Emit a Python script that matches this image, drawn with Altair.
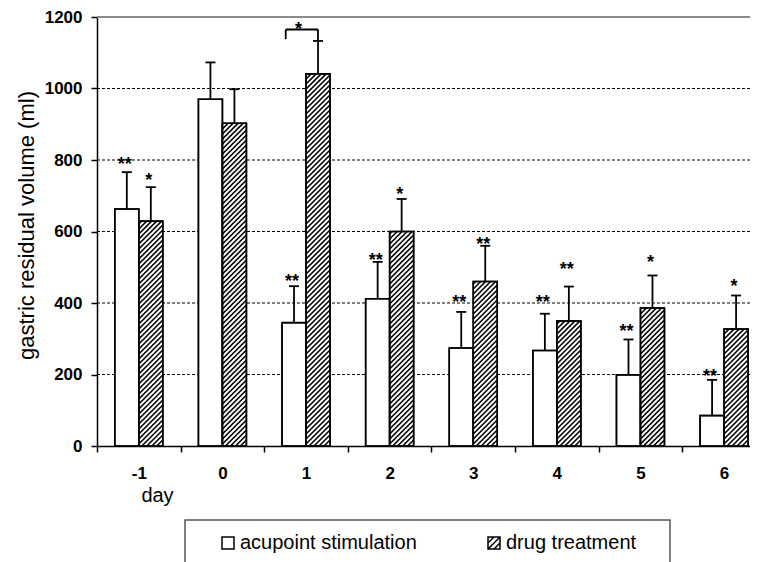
import altair as alt
import pandas as pd

# ---------------- data ----------------
days = [-1, 0, 1, 2, 3, 4, 5, 6]
series = ["acupoint stimulation", "drug treatment"]
acu_mean = [663, 970, 345, 412, 274, 267, 199, 85]
acu_sd = [103, 103, 102, 103, 101, 103, 99, 100]
drug_mean = [629, 903, 1041, 600, 460, 350, 386, 327]
drug_sd = [95, 95, 92, 91, 100, 96, 91, 94]
acu_sig = ["**", "", "**", "**", "**", "**", "**", "**"]
acu_sig_y = [800, 0, 473, 531, 414, 414, 333, 207]
drug_sig = ["*", "", "", "*", "**", "**", "*", "*"]
drug_sig_y = [755, 0, 0, 716, 575, 506, 526, 459]
bracket_x = [0.757, 1.143]
bracket_y = [1138, 1165]
bracket_sig = ["*"]
bracket_sig_x = [0.91]
bracket_sig_y = [1178]
grid_ticks = [200, 400, 600, 800, 1000]
y_ticks = [0, 200, 400, 600, 800, 1000, 1200]
top_line = [1200]
x_ticks = [-1.5, -0.5, 0.5, 1.5, 2.5, 3.5, 4.5, 5.5]

# ---------------- layout constants ----------------
PW, PH = 653, 429
X_MIN, X_MAX = -1.5, 6.31
Y_MAX = 1200
BAR_W = 0.287
FONT = "Liberation Sans"

xpx = PW / (X_MAX - X_MIN)
ypx = PH / Y_MAX

# bar table
rows = []
for i, d in enumerate(days):
    rows.append(dict(series=series[0], x0=d - BAR_W, x1=d, cx=d - BAR_W / 2,
                     v=acu_mean[i], up=acu_mean[i] + acu_sd[i], mid=acu_mean[i] / 2,
                     sig=acu_sig[i], sy=acu_sig_y[i]))
    rows.append(dict(series=series[1], x0=d, x1=d + BAR_W, cx=d + BAR_W / 2,
                     v=drug_mean[i], up=drug_mean[i] + drug_sd[i], mid=drug_mean[i] / 2,
                     sig=drug_sig[i], sy=drug_sig_y[i]))
bars = pd.DataFrame(rows)
stars = bars[bars["sig"] != ""]

# hatching of drug bars (diagonal lines derived from bar values)
pitch = 5.0
hatch = []
for d, v in zip(days, drug_mean):
    w = BAR_W * xpx
    h = v * ypx
    k = -w + 1.0
    while k < h:
        xs = max(0.0, -k)
        xe = min(w, h - k)
        if xe > xs:
            hatch.append(dict(hx=d + xs / xpx, hy=(xs + k) / ypx,
                              hx2=d + xe / xpx, hy2=(xe + k) / ypx))
        k += pitch
hatch = pd.DataFrame(hatch)

# significance bracket
drug_day1_up = drug_mean[2] + drug_sd[2]
bracket = pd.DataFrame([
    dict(bx=bracket_x[0], by=bracket_y[0], bx2=bracket_x[0], by2=bracket_y[1]),
    dict(bx=bracket_x[0], by=bracket_y[1], bx2=bracket_x[1], by2=bracket_y[1]),
    dict(bx=bracket_x[1], by=drug_day1_up, bx2=bracket_x[1], by2=bracket_y[1]),
])
bstar = pd.DataFrame(dict(t=bracket_sig, x=bracket_sig_x, y=bracket_sig_y))

# ---------------- scales / axes ----------------
xscale = alt.Scale(domain=[X_MIN, X_MAX], nice=False, zero=False)
yscale = alt.Scale(domain=[0, Y_MAX], nice=False, zero=True)

xaxis = alt.Axis(values=x_ticks, grid=False, labelExpr="'' + (datum.value + 0.5)",
                 labelOffset=xpx / 2, labelFlush=False, labelFontSize=17,
                 labelFontWeight="bold", labelColor="black", labelFont=FONT,
                 labelPadding=13, tickSize=6, tickWidth=1.5, tickColor="black",
                 domainColor="black", domainWidth=1.5,
                 title="day", titleFont=FONT, titleFontSize=20, titleFontWeight="normal",
                 titleColor="black", titleX=60, titleY=55, titleBaseline="alphabetic",
                 titleAlign="center")
yaxis = alt.Axis(values=y_ticks, grid=False, format="d", labelFontSize=17,
                 labelFontWeight="bold", labelColor="black", labelFont=FONT,
                 labelPadding=9, labelFlush=False,
                 tickSize=6, tickWidth=1.5, tickColor="black",
                 domainColor="black", domainWidth=1.5,
                 title="gastric residual volume (ml)", titleFont=FONT, titleFontSize=22,
                 titleFontWeight="normal", titleColor="black", titleX=-64, titleY=208,
                 titleBaseline="alphabetic", titleAlign="center", titleAngle=270)


def X(f):
    return alt.X(f, type="quantitative", scale=xscale, axis=xaxis)


def Y(f):
    return alt.Y(f, type="quantitative", scale=yscale, axis=yaxis)


sq_path = "M-1,-1H1V1H-1Z"
hatch_path = "M-1,-1H1V1H-1Z M-1,0L0,-1 M-1,1L1,-1 M0,1L1,0"

# point layer drawn beneath the (opaque) bars: it only feeds the legend
legend_pts = alt.Chart(bars).mark_point(filled=False, color="black",
                                        size=144, strokeWidth=1.5, opacity=1).encode(
    x=X("cx"), y=Y("mid"),
    shape=alt.Shape("series:N",
                    scale=alt.Scale(domain=series, range=[sq_path, hatch_path]),
                    legend=alt.Legend(title=None, orient="none", legendX=121, legendY=516,
                                      direction="horizontal", labelFont=FONT,
                                      labelFontSize=20, labelColor="black", labelLimit=400,
                                      labelOffset=2, columnPadding=67, padding=0,
                                      symbolSize=144, symbolStrokeWidth=1.5,
                                      symbolOpacity=1, symbolStrokeColor="black")),
)

grid = alt.Chart(pd.DataFrame(dict(g=grid_ticks))).mark_rule(
    color="black", strokeWidth=1, strokeDash=[3, 2]).encode(
    y=Y("g"), x=alt.value(0), x2=alt.value(PW))

top = alt.Chart(pd.DataFrame(dict(g=top_line))).mark_rule(
    color="#8a8a8a", strokeWidth=2).encode(
    y=Y("g"), x=alt.value(0), x2=alt.value(PW))

bar_fill = alt.Chart(bars).mark_rect(fill="white", stroke="black", strokeWidth=1.5).encode(
    x=X("x0"), x2="x1", y=Y("v"), y2=alt.Y2(datum=0))

hatch_lines = alt.Chart(hatch).mark_rule(color="black", strokeWidth=1.6).encode(
    x=X("hx"), y=Y("hy"), x2="hx2", y2="hy2")

bar_outline = alt.Chart(bars).mark_rect(fillOpacity=0, stroke="black", strokeWidth=1.6).encode(
    x=X("x0"), x2="x1", y=Y("v"), y2=alt.Y2(datum=0))

err = alt.Chart(bars).mark_rule(color="black", strokeWidth=1.8).encode(
    x=X("cx"), y=Y("v"), y2="up")

caps = alt.Chart(bars).mark_tick(orient="horizontal", size=10, thickness=1.8,
                                 color="black", opacity=1).encode(
    x=X("cx"), y=Y("up"))

star_text = alt.Chart(stars).mark_text(font=FONT, fontSize=18, fontWeight="bold",
                                       baseline="alphabetic", align="center",
                                       dy=10, dx=-2, color="black").encode(
    x=X("cx"), y=Y("sy"), text="sig:N")

bracket_lines = alt.Chart(bracket).mark_rule(color="black", strokeWidth=1.8).encode(
    x=X("bx"), y=Y("by"), x2="bx2", y2="by2")

bracket_star = alt.Chart(bstar).mark_text(font=FONT, fontSize=18, fontWeight="bold",
                                          baseline="alphabetic", align="center",
                                          dy=10, color="black").encode(
    x=X("x"), y=Y("y"), text="t:N")

legend_box = alt.Chart(pd.DataFrame(dict(a=[0]))).mark_rect(
    fillOpacity=0, stroke="#555555", strokeWidth=1.5).encode(
    x=alt.value(88), x2=alt.value(573), y=alt.value(503), y2=alt.value(600))

chart = alt.layer(
    legend_pts, grid, top, bar_fill, hatch_lines, bar_outline, err, caps,
    star_text, bracket_lines, bracket_star, legend_box,
).properties(
    width=PW, height=PH,
    autosize=alt.AutoSizeParams(type="none"),
    padding={"left": 89, "top": 9, "right": 0, "bottom": 116},
).configure_view(strokeWidth=0).configure(font=FONT)

chart.save("out.html", embed_options={"renderer": "svg", "actions": False})
